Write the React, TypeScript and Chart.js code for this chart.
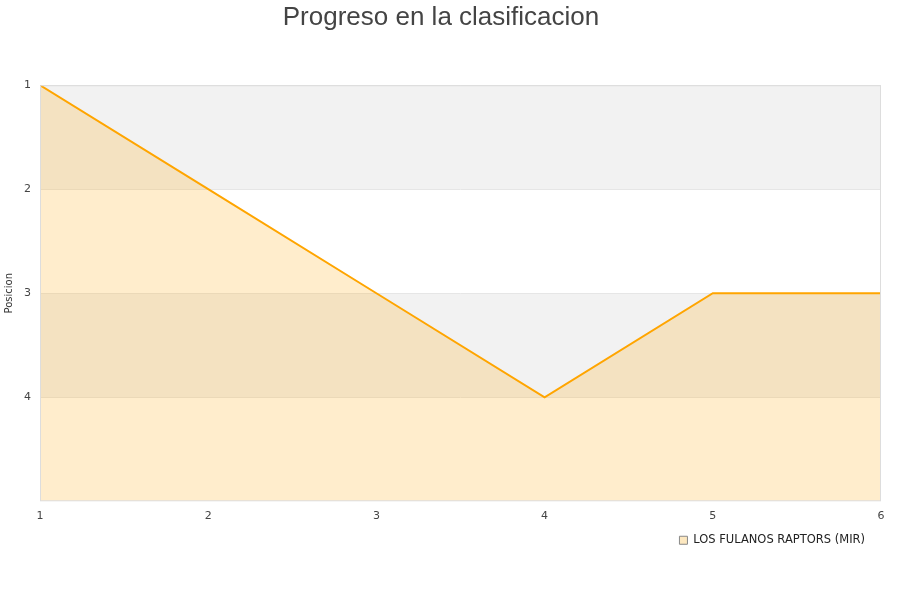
import React, { useEffect, useRef } from "react";
import { Chart, registerables } from "chart.js";

Chart.register(...registerables);

const rounds = [1, 2, 3, 4, 5, 6];
const positions = [1, 2, 3, 4, 3, 3];
const teamName = "LOS FULANOS RAPTORS (MIR)";
const chartTitle = "Progreso en la clasificacion";
const yTitle = "Posicion";
const yTickValues = [1, 2, 3, 4];

const bandPlugin = {
  id: "bands",
  afterLayout(chart: any) {
    if (chart.legend) {
      chart.legend.left -= 4;
      chart.legend.right -= 4;
    }
  },
  beforeDraw(chart: any) {
    const { ctx, chartArea, scales } = chart;
    const y = scales.y;
    ctx.save();
    for (let v = y.min; v < y.max; v++) {
      if ((v - y.min) % 2 === 0) {
        const p1 = y.getPixelForValue(v);
        const p2 = y.getPixelForValue(v + 1);
        ctx.fillStyle = "#f2f2f2";
        ctx.fillRect(chartArea.left, Math.min(p1, p2), chartArea.right - chartArea.left, Math.abs(p2 - p1));
      }
    }
    ctx.restore();
  },
  afterDraw(chart: any) {
    const { ctx, chartArea } = chart;
    ctx.save();
    ctx.strokeStyle = "#dddddd";
    ctx.lineWidth = 1;
    ctx.strokeRect(chartArea.left + 0.5, chartArea.top + 0.5, chartArea.right - chartArea.left - 1, chartArea.bottom - chartArea.top - 1);
    ctx.restore();
  },
};

export default function App() {
  const ref = useRef<HTMLCanvasElement>(null);
  useEffect(() => {
    document.body.style.margin = "0";
    const chart = new Chart(ref.current!, {
      type: "line",
      data: {
        labels: rounds,
        datasets: [
          {
            label: teamName,
            data: rounds.map((r, i) => ({ x: r, y: positions[i] })),
            borderColor: "#ffa500",
            backgroundColor: "rgba(255,165,0,0.2)",
            borderWidth: 2,
            pointRadius: 0,
            fill: "start",
            tension: 0,
          },
        ],
      },
      plugins: [bandPlugin],
      options: {
        animation: false,
        responsive: false,
        layout: { padding: { left: 1, right: 19, top: 0, bottom: 44 } },
        plugins: {
          title: {
            display: true,
            text: chartTitle,
            color: "#444444",
            font: { family: "'Liberation Sans', Arial, sans-serif", size: 26, weight: "normal" },
            padding: { top: 2, bottom: 52 },
          },
          legend: {
            position: "bottom",
            align: "end",
            labels: {
              boxWidth: 8,
              boxHeight: 8,
              padding: 12,
              color: "#222222",
              font: { family: "'DejaVu Sans', sans-serif", size: 11.5 },
              generateLabels: (c: any) => {
                const items = Chart.defaults.plugins.legend.labels.generateLabels(c);
                return items.map((it: any) => ({ ...it, strokeStyle: "#888888", lineWidth: 1, fillStyle: "#fde8c0" }));
              },
            },
          },
          tooltip: { enabled: false },
        },
        scales: {
          x: {
            type: "linear",
            min: 1,
            max: 6,
            ticks: {
              stepSize: 1,
              color: "#444444",
              font: { family: "'DejaVu Sans', sans-serif", size: 11 },
              padding: 0,
            },
            grid: { display: false },
            border: { display: false },
          },
          y: {
            type: "linear",
            reverse: true,
            min: 1,
            max: 5,
            afterBuildTicks: (axis: any) => {
              axis.ticks = yTickValues.map((v) => ({ value: v }));
            },
            ticks: {
              stepSize: 1,
              color: "#444444",
              font: { family: "'DejaVu Sans', sans-serif", size: 11 },
              padding: 9,
            },
            grid: { color: "#e6e6e6", drawTicks: false },
            border: { display: false },
            title: {
              display: true,
              text: yTitle,
              color: "#333333",
              font: { family: "'DejaVu Sans', sans-serif", size: 10 },
              padding: { top: 2, bottom: 0 },
            },
          },
        },
      },
    });
    return () => chart.destroy();
  }, []);
  return (
    <div style={{ width: 900, height: 600, background: "#fff" }}>
      <canvas ref={ref} width={900} height={600} />
    </div>
  );
}
